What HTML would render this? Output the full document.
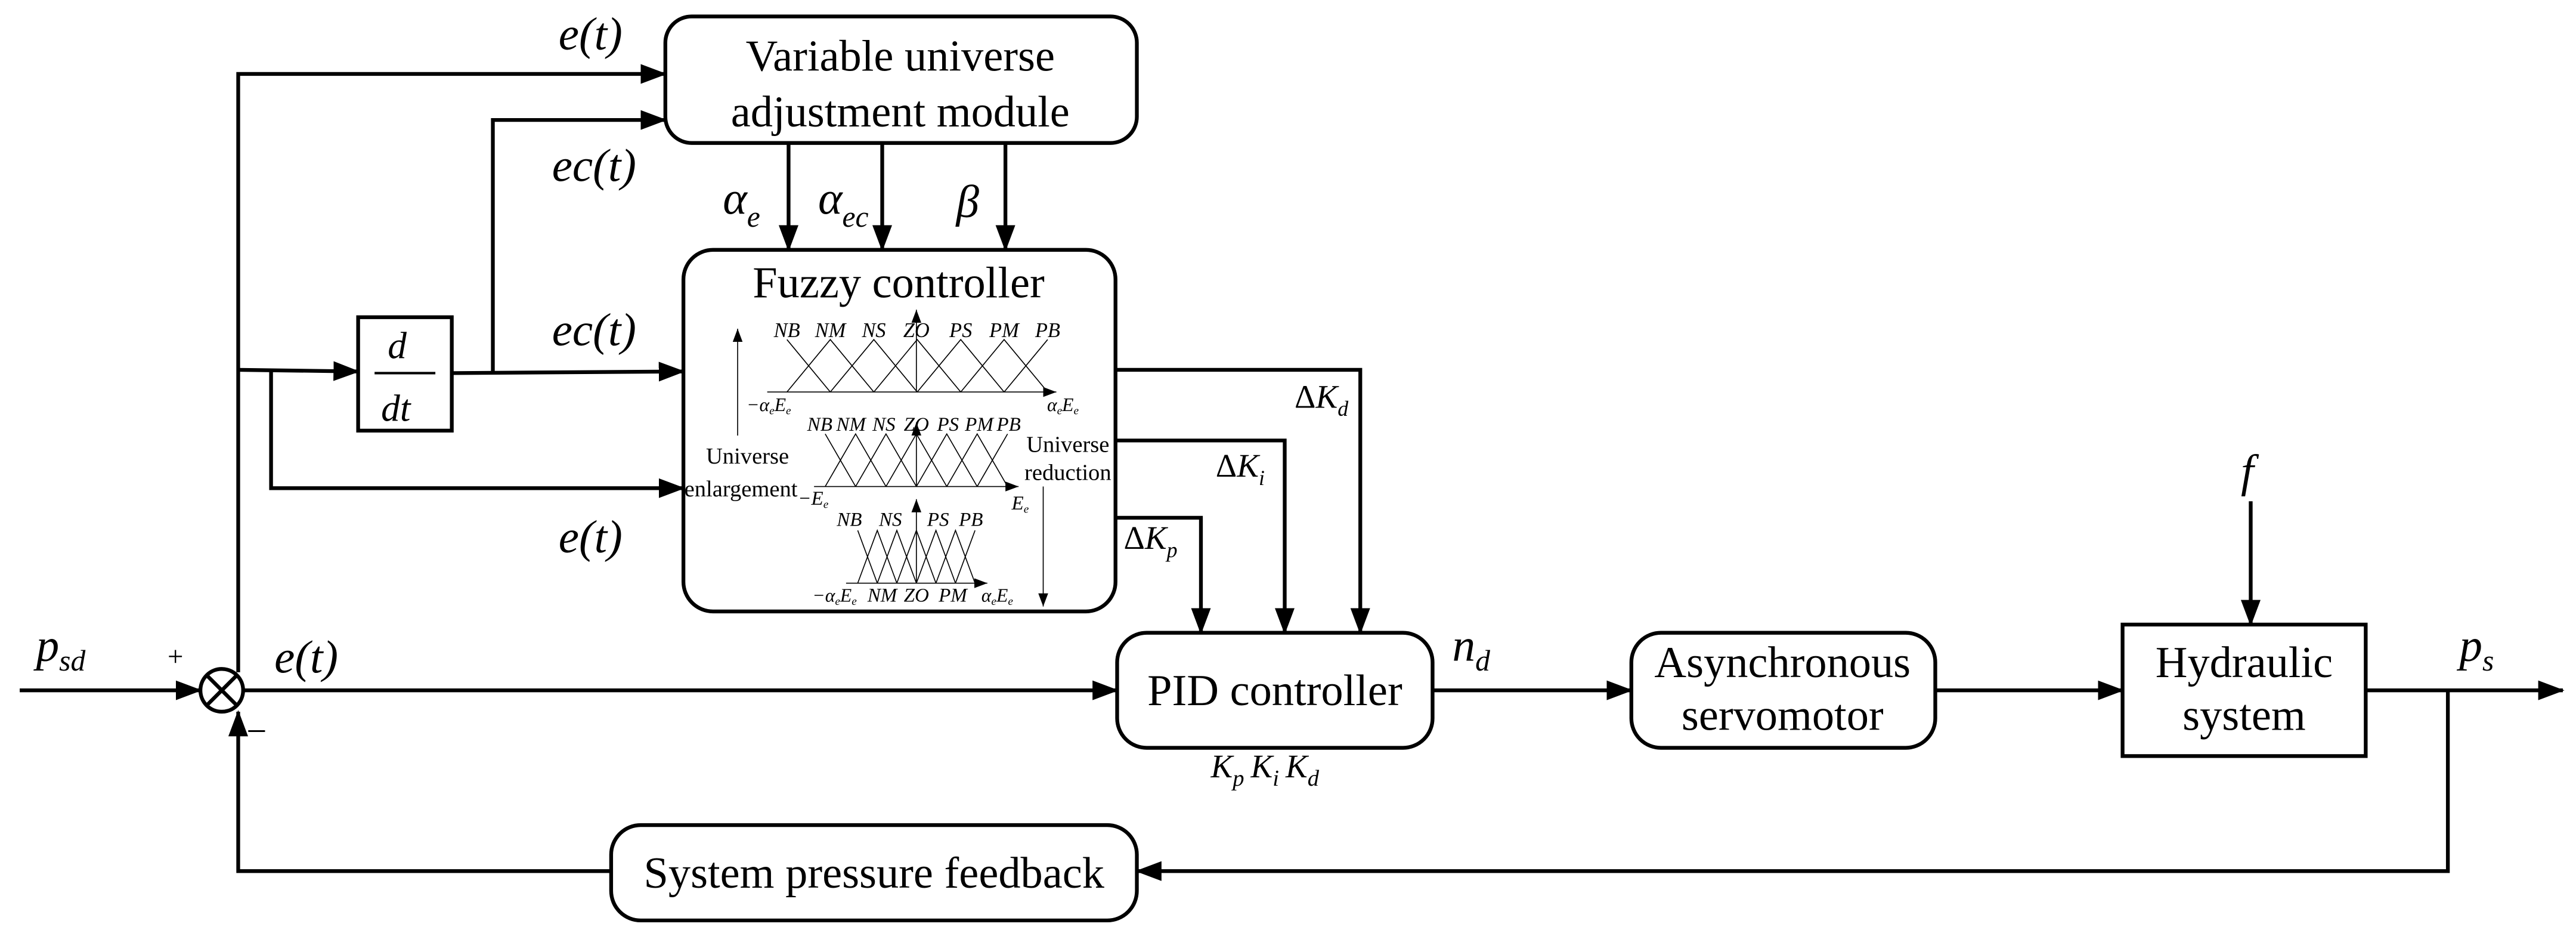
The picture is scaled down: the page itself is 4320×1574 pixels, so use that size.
<!DOCTYPE html>
<html><head><meta charset="utf-8"><style>
html,body{margin:0;padding:0;background:#fff;}
svg{display:block;}
text{font-family:"Liberation Serif",serif;fill:#000;}
.i{font-style:italic;}
</style></head><body>
<svg width="4320" height="1574" viewBox="0 0 1568 571.3" preserveAspectRatio="none" xmlns="http://www.w3.org/2000/svg">
<defs>
<marker id="a" markerUnits="userSpaceOnUse" markerWidth="16" markerHeight="12" refX="15" refY="6" orient="auto"><path d="M0,0 L16,6 L0,12 z" fill="#000"/></marker>
<marker id="s" markerUnits="userSpaceOnUse" markerWidth="8" markerHeight="6" refX="8" refY="3" orient="auto"><path d="M0,0 L8,3 L0,6 z" fill="#000"/></marker>
</defs>
<g fill="none" stroke="#000" stroke-width="2.3">
<rect x="405" y="10" width="287" height="77" rx="16"/>
<rect x="416" y="152" width="263" height="220" rx="18"/>
<rect x="218" y="193" width="57" height="69"/>
<rect x="680" y="385" width="192" height="70" rx="18"/>
<rect x="993" y="385" width="185" height="70" rx="18"/>
<rect x="1292" y="380" width="148" height="80"/>
<rect x="372" y="502" width="320" height="58" rx="18"/>
<circle cx="135" cy="420" r="13"/>
<line x1="126" y1="411" x2="144" y2="429"/><line x1="144" y1="411" x2="126" y2="429"/>
<line x1="12" y1="420" x2="122" y2="420" marker-end="url(#a)"/>
<polyline points="145,409 145,45 405,45" marker-end="url(#a)"/>
<polyline points="300,226 300,73 405,73" marker-end="url(#a)"/>
<polyline points="145,225 218,226" marker-end="url(#a)"/>
<polyline points="275,227 416,226" marker-end="url(#a)"/>
<polyline points="165,225 165,297 416,297" marker-end="url(#a)"/>
<line x1="480" y1="87" x2="480" y2="152" marker-end="url(#a)"/>
<line x1="537" y1="87" x2="537" y2="152" marker-end="url(#a)"/>
<line x1="612" y1="87" x2="612" y2="152" marker-end="url(#a)"/>
<line x1="148" y1="420" x2="680" y2="420" marker-end="url(#a)"/>
<polyline points="679,225 828,225 828,385" marker-end="url(#a)"/>
<polyline points="679,268 782,268 782,385" marker-end="url(#a)"/>
<polyline points="679,315 731,315 731,385" marker-end="url(#a)"/>
<line x1="872" y1="420" x2="993" y2="420" marker-end="url(#a)"/>
<line x1="1178" y1="420" x2="1292" y2="420" marker-end="url(#a)"/>
<line x1="1370" y1="305" x2="1370" y2="380" marker-end="url(#a)"/>
<line x1="1440" y1="420" x2="1560" y2="420" marker-end="url(#a)"/>
<polyline points="1490,420 1490,530 692,530" marker-end="url(#a)"/>
<polyline points="372,530 145,530 145,433" marker-end="url(#a)"/>
<line x1="228" y1="227" x2="265" y2="227" stroke-width="1.5"/>
</g>
<g fill="none" stroke="#000" stroke-width="0.6">
<line x1="467" y1="238.5" x2="643" y2="238.5" marker-end="url(#s)"/>
<line x1="557.8" y1="238.5" x2="557.8" y2="188.4" marker-end="url(#s)"/>
<polyline points="479,206.6 505.4,238.5"/>
<polyline points="479,238.5 505.4,206.6 531.9,238.5"/>
<polyline points="505.4,238.5 531.9,206.6 558.3,238.5"/>
<polyline points="531.9,238.5 558.3,206.6 584.8,238.5"/>
<polyline points="558.3,238.5 584.8,206.6 611.2,238.5"/>
<polyline points="584.8,238.5 611.2,206.6 637.7,238.5"/>
<polyline points="611.2,238.5 637.7,206.6"/>
<line x1="495.5" y1="296" x2="620" y2="296" marker-end="url(#s)"/>
<line x1="557.8" y1="296" x2="557.8" y2="257" marker-end="url(#s)"/>
<polyline points="502.3,264 520.8,296"/>
<polyline points="502.3,296 520.8,264 539.3,296"/>
<polyline points="520.8,296 539.3,264 557.8,296"/>
<polyline points="539.3,296 557.8,264 576.3,296"/>
<polyline points="557.8,296 576.3,264 594.8,296"/>
<polyline points="576.3,296 594.8,264 613.3,296"/>
<polyline points="594.8,296 613.3,264"/>
<line x1="515" y1="354.8" x2="601" y2="354.8" marker-end="url(#s)"/>
<line x1="557.8" y1="354.8" x2="557.8" y2="303.7" marker-end="url(#s)"/>
<polyline points="522.1,322.7 534,354.8"/>
<polyline points="522.1,354.8 534,322.7 545.9,354.8"/>
<polyline points="534,354.8 545.9,322.7 557.8,354.8"/>
<polyline points="545.9,354.8 557.8,322.7 569.7,354.8"/>
<polyline points="557.8,354.8 569.7,322.7 581.6,354.8"/>
<polyline points="569.7,354.8 581.6,322.7 593.5,354.8"/>
<polyline points="581.6,354.8 593.5,322.7"/>
<line x1="449" y1="265" x2="449" y2="200" marker-end="url(#s)"/>
<line x1="635" y1="296" x2="635" y2="369" marker-end="url(#s)"/>
</g>
<g font-size="12.5" text-anchor="middle" textLength="">
<text class="i" x="479" y="205">NB</text><text class="i" x="505.4" y="205">NM</text><text class="i" x="531.9" y="205">NS</text><text class="i" x="557.8" y="205">ZO</text><text class="i" x="584.8" y="205">PS</text><text class="i" x="611.2" y="205">PM</text><text class="i" x="637.7" y="205">PB</text>
</g>
<g font-size="12" text-anchor="middle">
<text class="i" x="499" y="262">NB</text><text class="i" x="518" y="262">NM</text><text class="i" x="538" y="262">NS</text><text class="i" x="557.8" y="262">ZO</text><text class="i" x="577" y="262">PS</text><text class="i" x="596" y="262">PM</text><text class="i" x="614" y="262">PB</text>
<text class="i" x="517" y="320">NB</text><text class="i" x="542" y="320">NS</text><text class="i" x="571" y="320">PS</text><text class="i" x="591" y="320">PB</text>
<text class="i" x="537" y="366">NM</text><text class="i" x="557.8" y="366">ZO</text><text class="i" x="580" y="366">PM</text>
<text class="i" x="468" y="250" font-size="11.5">−α<tspan font-size="7" dy="2">e</tspan><tspan dy="-2">E</tspan><tspan font-size="7" dy="2">e</tspan></text>
<text class="i" x="647" y="250" font-size="11.5">α<tspan font-size="7" dy="2">e</tspan><tspan dy="-2">E</tspan><tspan font-size="7" dy="2">e</tspan></text>
<text class="i" x="495" y="307" font-size="12">−E<tspan font-size="7" dy="2">e</tspan></text>
<text class="i" x="621" y="310" font-size="12">E<tspan font-size="7" dy="2">e</tspan></text>
<text class="i" x="508" y="366" font-size="11.5">−α<tspan font-size="7" dy="2">e</tspan><tspan dy="-2">E</tspan><tspan font-size="7" dy="2">e</tspan></text>
<text class="i" x="607" y="366" font-size="11.5">α<tspan font-size="7" dy="2">e</tspan><tspan dy="-2">E</tspan><tspan font-size="7" dy="2">e</tspan></text>
</g>
<g font-size="14" text-anchor="middle">
<text x="455" y="282">Universe</text><text x="451" y="302">enlargement</text>
<text x="650" y="275">Universe</text><text x="650" y="292">reduction</text>
</g>
<g font-size="27" text-anchor="middle">
<text x="548" y="43">Variable universe</text>
<text x="548" y="77">adjustment module</text>
<text x="547" y="181">Fuzzy controller</text>
<text x="776" y="429">PID controller</text>
<text x="1085" y="412">Asynchronous</text>
<text x="1085" y="444">servomotor</text>
<text x="1366" y="412">Hydraulic</text>
<text x="1366" y="444">system</text>
<text x="532" y="540">System pressure feedback</text>
</g>
<g font-size="28">
<text class="i" x="340" y="30">e(t)</text>
<text class="i" x="336" y="110">ec(t)</text>
<text class="i" x="336" y="210">ec(t)</text>
<text class="i" x="340" y="336">e(t)</text>
<text class="i" x="167" y="409">e(t)</text>
<text class="i" x="22" y="402">p<tspan font-size="18" dy="6">sd</tspan></text>
<text class="i" x="1497" y="402">p<tspan font-size="18" dy="6">s</tspan></text>
<text class="i" x="884" y="402">n<tspan font-size="18" dy="6">d</tspan></text>
<text class="i" x="1364" y="296">f</text>
<text class="i" x="440" y="130">α<tspan font-size="18" dy="8">e</tspan></text>
<text class="i" x="498" y="130">α<tspan font-size="18" dy="8">ec</tspan></text>
<text class="i" x="582" y="132">β</text>
<text class="i" x="236" y="218" font-size="23">d</text>
<text class="i" x="232" y="256" font-size="23">dt</text>
</g>
<g font-size="20">
<text x="788" y="248">Δ<tspan class="i">K</tspan><tspan class="i" font-size="13" dy="5">d</tspan></text>
<text x="740" y="290">Δ<tspan class="i">K</tspan><tspan class="i" font-size="13" dy="5">i</tspan></text>
<text x="684" y="334">Δ<tspan class="i">K</tspan><tspan class="i" font-size="13" dy="5">p</tspan></text>
<text x="737" y="473" class="i">K<tspan font-size="14" dy="5">p</tspan><tspan dx="4" dy="-5">K</tspan><tspan font-size="14" dy="5">i</tspan><tspan dx="4" dy="-5">K</tspan><tspan font-size="14" dy="5">d</tspan></text>
<text x="102" y="405" font-size="17">+</text>
<text x="150" y="452" font-size="22">−</text>
</g>
</svg>
</body></html>
